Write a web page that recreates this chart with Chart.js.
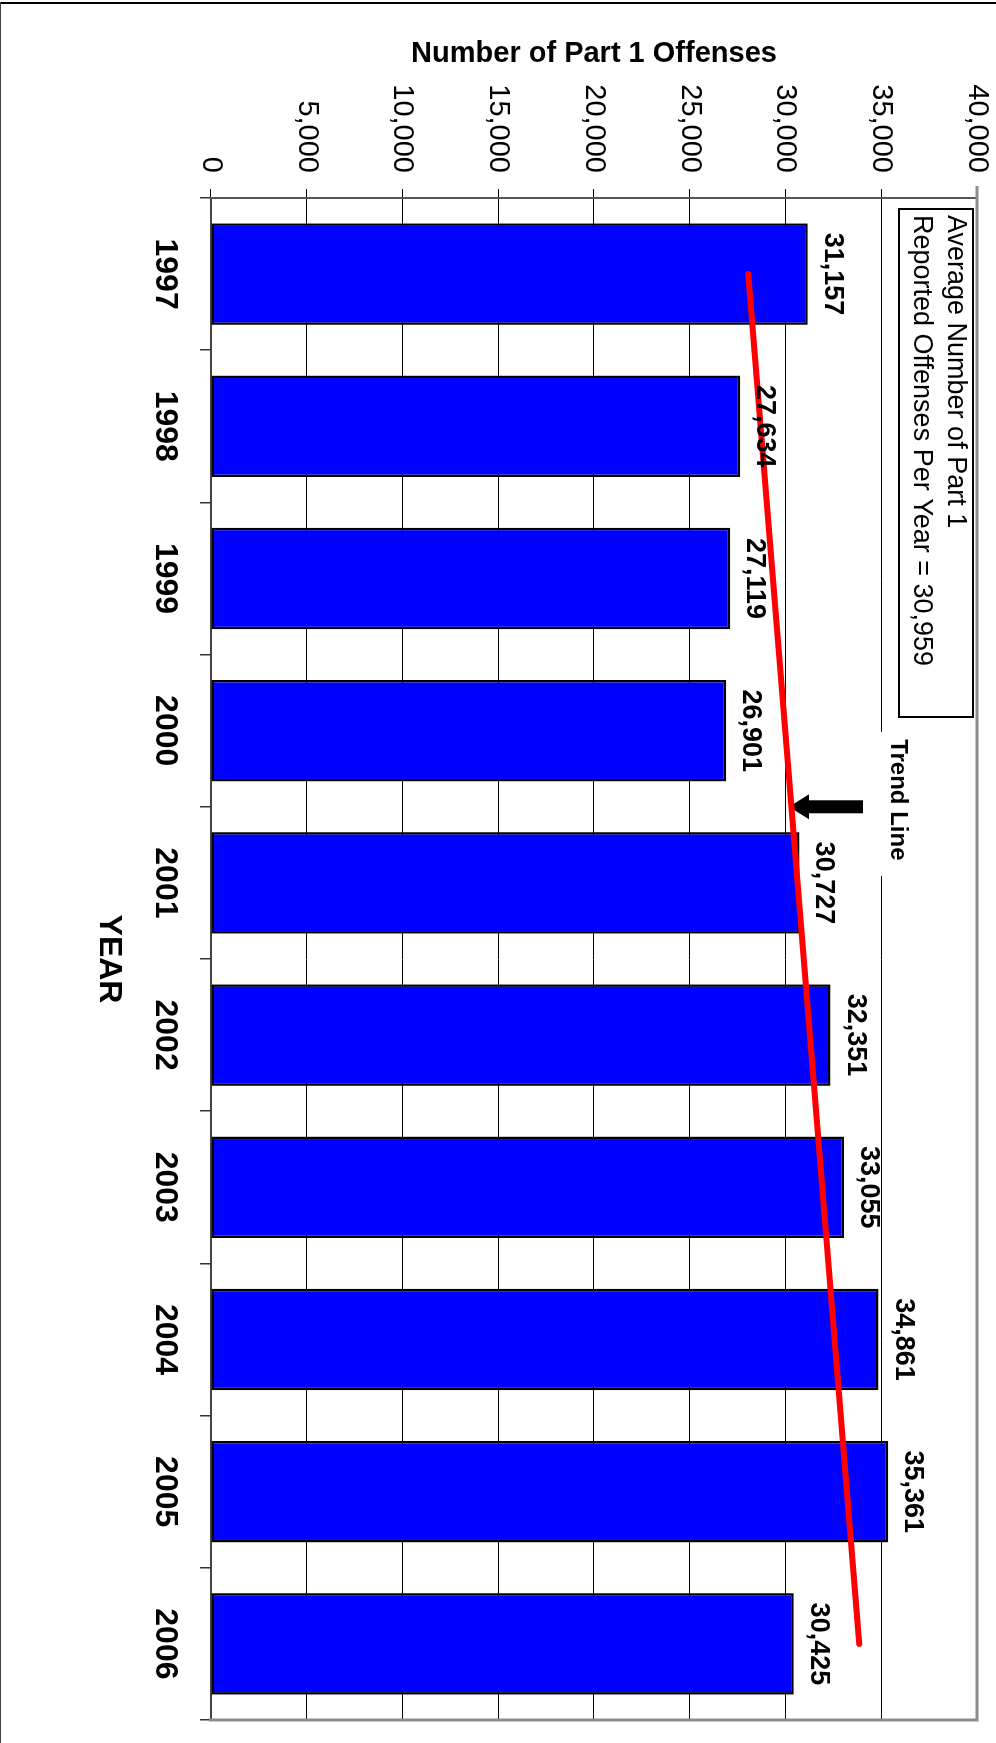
<!DOCTYPE html>
<html>
<head>
<meta charset="utf-8">
<script src="https://cdn.jsdelivr.net/npm/chart.js@4.4.1/dist/chart.umd.min.js"></script>
<style>
html, body { margin:0; padding:0; background:#fff; overflow:hidden; width:996px; height:1743px; }
#wrap { position:absolute; left:0; top:0; width:1743px; height:996px; transform-origin:0 0; transform:translate(996px,0) rotate(90deg); }
#frameTop { position:absolute; left:0; top:2px; width:996px; height:2px; background:#000; }
#frameLeft { position:absolute; left:0; top:2px; width:1px; height:1741px; background:#444; }
</style>
</head>
<body>
<div id="wrap"><canvas id="c" width="1743" height="996"></canvas></div>
<div id="frameTop"></div>
<div id="frameLeft"></div>
<script>
// ---- data ----
const years = ['1997', '1998', '1999', '2000', '2001', '2002', '2003', '2004', '2005', '2006'];
const offenses = [31157, 27634, 27119, 26901, 30727, 32351, 33055, 34861, 35361, 30425];
const trendLine = [28060, null, null, null, null, null, null, null, null, 33850];
const valueTicks = [0, 5000, 10000, 15000, 20000, 25000, 30000, 35000, 40000];
const averageText = ['Average Number of Part 1', 'Reported Offenses Per Year = 30,959'];
const trendLabel = 'Trend Line';
const valueTitle = 'Number of Part 1 Offenses';
const categoryTitle = 'YEAR';

const FONT = '"Liberation Sans", Arial, Helvetica, sans-serif';

const decorations = {
  id: 'decorations',
  beforeDatasetsDraw(chart) {
    const ctx = chart.ctx, ca = chart.chartArea, xs = chart.scales.x;
    const boundary = (xs.getPixelForValue(3) + xs.getPixelForValue(4)) / 2;
    ctx.save();
    ctx.fillStyle = '#fff';
    ctx.fillRect(boundary - 75, ca.top + 61, 144, 36);
    ctx.fillStyle = '#000';
    ctx.font = 'bold 24px ' + FONT;
    ctx.textAlign = 'center';
    ctx.textBaseline = 'middle';
    ctx.fillText(trendLabel, boundary - 7, ca.top + 79);
    const lm = chart.getDatasetMeta(1);
    const p0 = lm.data[0], p9 = lm.data[lm.data.length - 1];
    const t = (boundary - p0.x) / (p9.x - p0.x);
    const lineY = p0.y + t * (p9.y - p0.y);
    const tip = lineY + 2.5;
    const tail = ca.top + 114;
    const headBase = tip - 20;
    ctx.beginPath();
    ctx.moveTo(boundary - 6.5, tail);
    ctx.lineTo(boundary + 6.5, tail);
    ctx.lineTo(boundary + 6.5, headBase);
    ctx.lineTo(boundary + 12.5, headBase);
    ctx.lineTo(boundary, tip);
    ctx.lineTo(boundary - 12.5, headBase);
    ctx.lineTo(boundary - 6.5, headBase);
    ctx.closePath();
    ctx.fill();
    ctx.restore();
  },
  afterDatasetsDraw(chart) {
    const ctx = chart.ctx, ca = chart.chartArea;
    ctx.save();
    ctx.strokeStyle = '#8c8c8c';
    ctx.lineWidth = 3;
    ctx.beginPath();
    ctx.moveTo(ca.left - 12, ca.top);
    ctx.lineTo(ca.right, ca.top);
    ctx.lineTo(ca.right, ca.bottom + 2);
    ctx.stroke();
    const meta = chart.getDatasetMeta(0);
    ctx.fillStyle = '#000';
    ctx.font = 'bold 27px ' + FONT;
    ctx.textAlign = 'center';
    ctx.textBaseline = 'alphabetic';
    meta.data.forEach((bar, i) => {
      ctx.fillText(offenses[i].toLocaleString('en-US'), bar.x, bar.y - 17);
    });
    const bx = ca.left + 11, by = ca.top + 4, bw = 508, bh = 74;
    ctx.fillStyle = '#fff';
    ctx.fillRect(bx, by, bw, bh);
    ctx.strokeStyle = '#000';
    ctx.lineWidth = 2;
    ctx.strokeRect(bx, by, bw, bh);
    ctx.fillStyle = '#000';
    ctx.font = '27px ' + FONT;
    ctx.textAlign = 'left';
    ctx.textBaseline = 'middle';
    averageText.forEach((line, k) => ctx.fillText(line, bx + 6, by + 18 + k * 33.3));
    ctx.restore();
  }
};

new Chart(document.getElementById('c'), {
  type: 'bar',
  data: {
    labels: years,
    datasets: [
      {
        type: 'bar',
        data: offenses,
        backgroundColor: '#0000FF',
        borderColor: '#000',
        borderWidth: 2.5,
        borderSkipped: false,
        categoryPercentage: 1,
        barPercentage: 0.667,
        order: 1
      },
      {
        type: 'line',
        data: trendLine,
        spanGaps: true,
        borderColor: '#FF0000',
        borderWidth: 6,
        borderCapStyle: 'round',
        pointRadius: 0,
        fill: false,
        order: 0
      }
    ]
  },
  options: {
    responsive: false,
    devicePixelRatio: 1,
    animation: false,
    layout: { padding: { left: 0, right: 23, top: 19, bottom: 0 } },
    plugins: { legend: { display: false }, tooltip: { enabled: false }, title: { display: false } },
    scales: {
      x: {
        offset: true,
        grid: { display: true, drawOnChartArea: false, offset: true, drawTicks: true, tickLength: 11, color: '#333', lineWidth: 1.5 },
        border: { display: true, color: '#444', width: 2 },
        ticks: { color: '#000', font: { family: FONT, size: 32, weight: 'bold' }, padding: 16, maxRotation: 0, minRotation: 0, autoSkip: false },
        title: { display: true, text: categoryTitle, color: '#000', font: { family: FONT, size: 32, weight: 'bold' }, padding: { top: 0, bottom: 90 } },
        afterFit(s) { s.height = 211; s.paddingLeft = 0; s.paddingRight = 0; }
      },
      y: {
        min: valueTicks[0],
        max: valueTicks[valueTicks.length - 1],
        grid: { color: '#000', lineWidth: 1, drawTicks: true, tickLength: 9 },
        border: { display: true, color: '#555', width: 2 },
        ticks: {
          stepSize: valueTicks[1] - valueTicks[0],
          color: '#000',
          font: { family: FONT, size: 29 },
          padding: 16,
          callback: v => v.toLocaleString('en-US')
        },
        title: { display: true, text: valueTitle, color: '#000', font: { family: FONT, size: 29, weight: 'bold' }, padding: { top: 37, bottom: 0 } },
        afterFit(s) { s.width = 198; s.paddingTop = 0; s.paddingBottom = 0; }
      }
    }
  },
  plugins: [decorations]
});
</script>
</body>
</html>
